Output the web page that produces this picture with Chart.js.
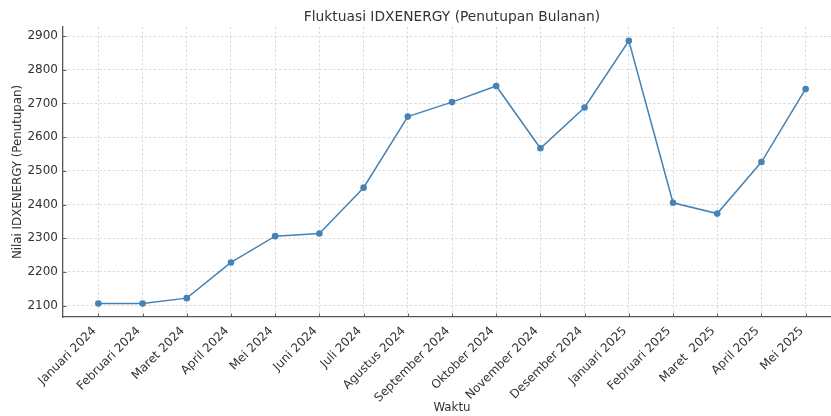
<!DOCTYPE html>
<html>
<head>
<meta charset="utf-8">
<script src="https://cdn.jsdelivr.net/npm/chart.js@4.4.1/dist/chart.umd.min.js"></script>
<style>
  html, body { margin: 0; padding: 0; background: #fff; }
  #wrap { width: 831px; height: 416px; overflow: hidden; }
  canvas { display: block; }
</style>
</head>
<body>
<div id="wrap"><canvas id="chart" width="904" height="416"></canvas></div>
<script>
const months = [
  "Januari 2024", "Februari 2024", "Maret 2024", "April 2024", "Mei 2024", "Juni 2024",
  "Juli 2024", "Agustus 2024", "September 2024", "Oktober 2024", "November 2024",
  "Desember 2024", "Januari 2025", "Februari 2025", "Maret  2025", "April 2025", "Mei 2025"
];
const closes = [2106, 2106, 2122, 2228, 2306, 2314, 2450, 2661, 2704, 2752, 2567, 2688, 2886, 2405, 2373, 2526, 2743];
const yTicks = [2100, 2200, 2300, 2400, 2500, 2600, 2700, 2800, 2900];

const FONT = "'DejaVu Sans', sans-serif";
const LINE = "#4682b4";
const TEXT = "#333333";
const GRID = "rgba(185,185,185,0.65)";

// inward tick marks + title, matplotlib style
const decor = {
  id: "decor",
  afterDraw(chart){
    const { ctx, chartArea, scales } = chart;
    ctx.save();
    ctx.strokeStyle = "#555";
    ctx.lineWidth = 0.9;
    ctx.beginPath();
    scales.x.ticks.forEach((t) => {
      const x = Math.round(scales.x.getPixelForValue(t.value)) + 0.5;
      ctx.moveTo(x, chartArea.bottom);
      ctx.lineTo(x, chartArea.bottom - 3.5);
    });
    scales.y.ticks.forEach((t) => {
      const y = Math.round(scales.y.getPixelForValue(t.value)) + 0.5;
      ctx.moveTo(chartArea.left, y);
      ctx.lineTo(chartArea.left + 3.5, y);
    });
    ctx.stroke();

    ctx.fillStyle = TEXT;
    ctx.font = "13.8px " + FONT;
    ctx.textAlign = "center";
    ctx.textBaseline = "middle";
    ctx.fillText("Fluktuasi IDXENERGY (Penutupan Bulanan)", (chartArea.left + chartArea.right) / 2, 17);
    ctx.restore();
  }
};

new Chart(document.getElementById("chart"), {
  type: "line",
  data: {
    datasets: [{
      data: closes.map((v, i) => ({ x: i, y: v })),
      borderColor: LINE,
      backgroundColor: LINE,
      borderWidth: 1.5,
      pointRadius: 3.3,
      pointBorderWidth: 0,
      pointBackgroundColor: LINE,
      tension: 0
    }]
  },
  options: {
    responsive: false,
    animation: false,
    layout: { padding: { top: 27, right: 63, bottom: 0, left: 0 } },
    plugins: {
      legend: { display: false },
      tooltip: { enabled: false }
    },
    scales: {
      x: {
        type: "linear",
        min: -0.8,
        max: 16.8,
        afterBuildTicks: (s) => { s.ticks = months.map((_, i) => ({ value: i })); },
        afterFit: (s) => { s.height = 99; },
        grid: { color: GRID, lineWidth: 0.8, drawTicks: false },
        border: { display: true, color: "#555", width: 1.3, dash: [2.5, 2] },
        ticks: {
          autoSkip: false,
          minRotation: 45,
          maxRotation: 45,
          padding: 7,
          labelOffset: -4,
          color: TEXT,
          font: { family: FONT, size: 12 },
          callback: (v) => months[v]
        },
        title: {
          display: true,
          text: "Waktu",
          color: TEXT,
          font: { family: FONT, size: 11.8 },
          padding: { top: 1, bottom: 1 }
        }
      },
      y: {
        min: 2066,
        max: 2927,
        afterBuildTicks: (s) => { s.ticks = yTicks.map((v) => ({ value: v })); },
        afterFit: (s) => { s.width = 63; },
        grid: { color: GRID, lineWidth: 0.8, drawTicks: false },
        border: { display: true, color: "#555", width: 1.3, dash: [2.5, 2] },
        ticks: {
          padding: 5,
          color: TEXT,
          font: { family: FONT, size: 12 },
          callback: (v) => String(v)
        },
        title: {
          display: true,
          text: "Nilai IDXENERGY (Penutupan)",
          color: TEXT,
          font: { family: FONT, size: 11.8 },
          padding: { top: 11, bottom: 0 }
        }
      }
    }
  },
  plugins: [decor]
});
</script>
</body>
</html>
